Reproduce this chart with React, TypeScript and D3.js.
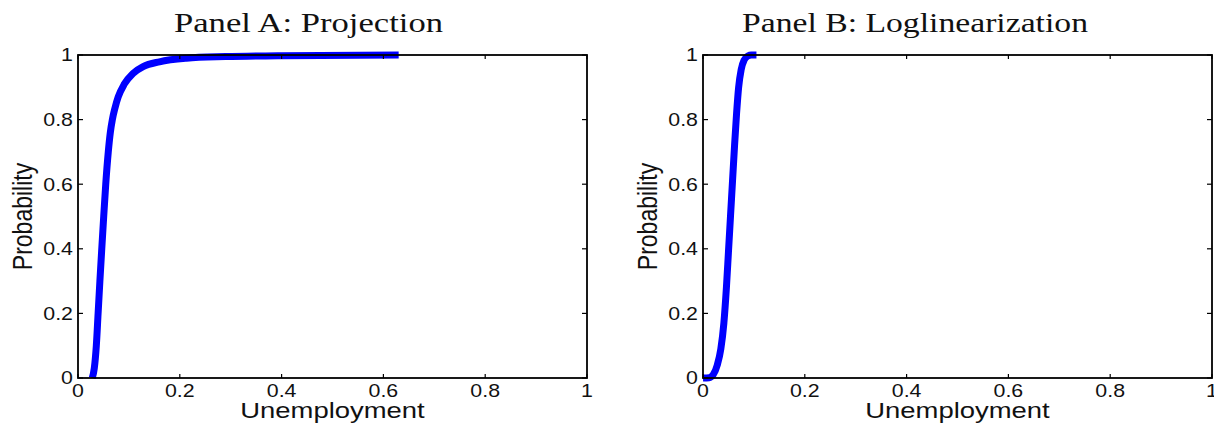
import { useEffect, useRef } from "react";
import * as d3 from "d3";

// Panel A: projection-method CDF of unemployment
const projX = [0.028, 0.032, 0.036, 0.0395, 0.043, 0.0467, 0.0505, 0.0545, 0.0595, 0.0635, 0.0675, 0.0725, 0.079, 0.091, 0.108, 0.128, 0.16, 0.213, 0.29, 0.4, 0.63];
const projY = [0, 0.03, 0.1, 0.2, 0.3, 0.4, 0.5, 0.6, 0.7, 0.76, 0.8, 0.835, 0.87, 0.91, 0.943, 0.964, 0.979, 0.99, 0.995, 0.998, 1.0];

// Panel B: loglinearization CDF
const logX = [0, 0.012, 0.02, 0.028, 0.035, 0.041, 0.046, 0.05, 0.054, 0.058, 0.062, 0.066, 0.07, 0.075, 0.081, 0.088, 0.095, 0.105];
const logY = [0, 0.001, 0.01, 0.04, 0.09, 0.17, 0.28, 0.39, 0.5, 0.61, 0.72, 0.82, 0.9, 0.955, 0.985, 0.997, 1.0, 1.0];

const ticks = [0, 0.2, 0.4, 0.6, 0.8, 1];
const tickLabels = ["0", "0.2", "0.4", "0.6", "0.8", "1"];

const titles = ["Panel A: Projection", "Panel B: Loglinearization"];
const xLabel = "Unemployment";
const yLabel = "Probability";

const W = 1214;
const H = 425;
const STRETCH = 1.22; // the original figure is stretched horizontally

export default function App() {
  const svgRef = useRef<SVGSVGElement | null>(null);

  useEffect(() => {
    if (!svgRef.current) return;
    const svg = d3.select(svgRef.current);
    svg.selectAll("*").remove();

    const panels = [
      { left: 78, xs: projX, ys: projY, title: titles[0], titleX: [174, 443] },
      { left: 703, xs: logX, ys: logY, title: titles[1], titleX: [742, 1088] },
    ];
    const top = 55;
    const bottom = 378;
    const pw = 509;
    const sans = "'Liberation Sans', Arial, Helvetica, sans-serif";

    panels.forEach((p) => {
      const x = d3.scaleLinear().domain([0, 1]).range([p.left, p.left + pw]);
      const y = d3.scaleLinear().domain([0, 1]).range([bottom, top]);
      const g = svg.append("g");

      // title
      g.append("text")
        .attr("x", p.titleX[0])
        .attr("y", 32)
        .attr("font-family", "'Liberation Serif', 'DejaVu Serif', serif")
        .attr("font-size", 27)
        .attr("fill", "#111")
        .attr("textLength", p.titleX[1] - p.titleX[0])
        .attr("lengthAdjust", "spacingAndGlyphs")
        .text(p.title);

      // curve
      const pts: [number, number][] = p.xs.map((v, i) => [v, p.ys[i]]);
      const line = d3
        .line<[number, number]>()
        .x((d) => x(d[0]))
        .y((d) => y(d[1]))
        .curve(d3.curveMonotoneX);
      g.append("path")
        .datum(pts)
        .attr("fill", "none")
        .attr("stroke", "#0000ff")
        .attr("stroke-width", 7)
        .attr("stroke-linejoin", "round")
        .attr("d", line);

      // box
      g.append("rect")
        .attr("x", x(0))
        .attr("y", y(1))
        .attr("width", x(1) - x(0))
        .attr("height", y(0) - y(1))
        .attr("fill", "none")
        .attr("stroke", "#000")
        .attr("stroke-width", 1.8);

      // inward ticks on all four sides
      ticks.forEach((t) => {
        g.append("line").attr("x1", x(t)).attr("x2", x(t)).attr("y1", bottom).attr("y2", bottom - 4).attr("stroke", "#000").attr("stroke-width", 1.2);
        g.append("line").attr("x1", x(t)).attr("x2", x(t)).attr("y1", top).attr("y2", top + 4).attr("stroke", "#000").attr("stroke-width", 1.2);
        g.append("line").attr("x1", p.left).attr("x2", p.left + 5).attr("y1", y(t)).attr("y2", y(t)).attr("stroke", "#000").attr("stroke-width", 1.2);
        g.append("line").attr("x1", p.left + pw).attr("x2", p.left + pw - 5).attr("y1", y(t)).attr("y2", y(t)).attr("stroke", "#000").attr("stroke-width", 1.2);
      });

      // x tick labels
      ticks.forEach((t, i) => {
        g.append("text")
          .attr("transform", `translate(${x(t)},396.5) scale(${STRETCH},1)`)
          .attr("text-anchor", "middle")
          .attr("font-family", sans)
          .attr("font-size", 17.5)
          .attr("fill", "#111")
          .text(tickLabels[i]);
      });

      // y tick labels
      ticks.forEach((t, i) => {
        g.append("text")
          .attr("transform", `translate(${p.left - 5},${y(t) + 6.3}) scale(${STRETCH},1)`)
          .attr("text-anchor", "end")
          .attr("font-family", sans)
          .attr("font-size", 17.5)
          .attr("fill", "#111")
          .text(tickLabels[i]);
      });

      // axis labels
      g.append("text")
        .attr("transform", `translate(${p.left + pw / 2},418) scale(${STRETCH},1)`)
        .attr("text-anchor", "middle")
        .attr("font-family", sans)
        .attr("font-size", 22.5)
        .attr("fill", "#111")
        .text(xLabel);

      g.append("text")
        .attr("transform", `translate(${p.left - 46},${(top + bottom) / 2}) rotate(-90) scale(1,${STRETCH})`)
        .attr("text-anchor", "middle")
        .attr("font-family", sans)
        .attr("font-size", 23)
        .attr("fill", "#111")
        .text(yLabel);
    });
  }, []);

  return (
    <svg
      ref={svgRef}
      width={W}
      height={H}
      style={{ position: "absolute", left: 0, top: 0, background: "#fff" }}
    />
  );
}
